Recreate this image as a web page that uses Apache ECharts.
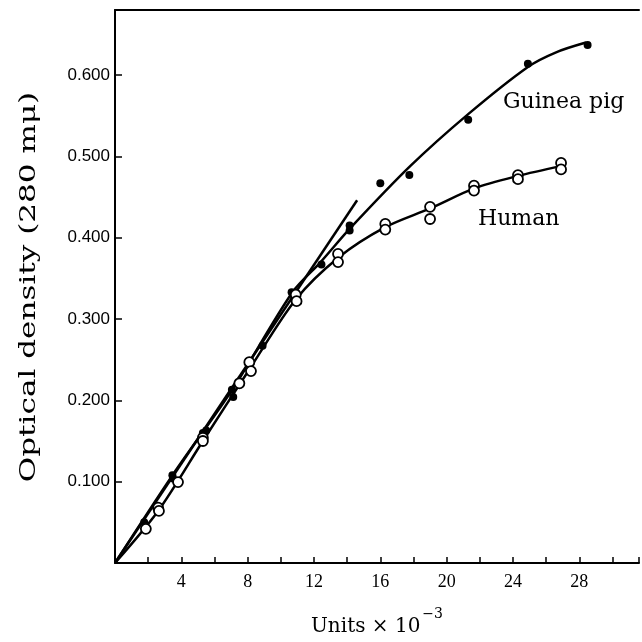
<!DOCTYPE html>
<html>
<head>
<meta charset="utf-8">
<script src="https://cdn.jsdelivr.net/npm/echarts@6/dist/echarts.min.js"></script>
<style>
  html, body { margin: 0; padding: 0; background: #fff; }
  #chart { width: 642px; height: 642px; }
</style>
</head>
<body>
<div id="chart"></div>
<script>
/* data (units x 10^-3 vs optical density at 280 mμ) */
var GP_X = [1.76, 3.46, 3.5, 5.3, 5.5, 7.05, 7.13, 8.9, 10.65, 10.8, 12.45, 14.15, 14.15, 16.0, 17.75, 21.3, 24.9, 28.5];
var GP_Y = [0.050, 0.108, 0.104, 0.160, 0.163, 0.213, 0.204, 0.267, 0.333, 0.328, 0.367, 0.415, 0.409, 0.467, 0.477, 0.545, 0.614, 0.637];

var HU_X = [1.86, 2.6, 2.65, 3.8, 5.3, 5.3, 7.5, 8.1, 8.2, 10.9, 10.95, 13.45, 13.45, 16.3, 16.3, 19.0, 19.0, 21.65, 21.65, 24.3, 24.3, 26.9, 26.9];
var HU_Y = [0.042, 0.068, 0.064, 0.0995, 0.154, 0.150, 0.221, 0.247, 0.236, 0.330, 0.322, 0.380, 0.370, 0.417, 0.410, 0.438, 0.423, 0.464, 0.458, 0.477, 0.472, 0.492, 0.484];

/* drawn curves */
var GP_CURVE_X = [0, 3.5, 7.1, 10.7, 12.4, 14.2, 17.8, 21.3, 24.9, 26.6, 28.4];
var GP_CURVE_Y = [0, 0.109, 0.214, 0.333, 0.370, 0.412, 0.488, 0.552, 0.610, 0.628, 0.640];

var HU_CURVE_X = [0, 2.6, 5.3, 8.1, 10.9, 13.5, 16.3, 19.0, 21.7, 24.3, 26.9];
var HU_CURVE_Y = [0, 0.064, 0.150, 0.238, 0.324, 0.376, 0.413, 0.436, 0.461, 0.476, 0.488];

var TANGENT_X = [0, 14.6];
var TANGENT_Y = [0, 0.446];

var zip = function (xs, ys) {
  var rt = [];
  for (var i = 0; i < xs.length; i++) rt.push([xs[i], ys[i]]);
  return rt;
};

var LINE = { color: '#000', width: 2.5 };

var option = {
  backgroundColor: '#fff',
  animation: false,
  grid: { left: 115, top: 10, right: 0, bottom: 64 },
  xAxis: [
    {
      type: 'value', min: 0, max: 31.6, interval: 2,
      axisLine: { lineStyle: { color: '#000', width: 2 } },
      axisTick: { inside: true, length: 6, lineStyle: { color: '#000', width: 1.5 } },
      splitLine: { show: false },
      axisLabel: {
        color: '#000', fontFamily: 'Liberation Serif', fontSize: 18, margin: 10,
        formatter: function (v) { return (v > 0 && v % 4 === 0) ? String(v) : ''; }
      },
      name: '{a|Units × 10}{s|−3}',
      nameLocation: 'middle', nameGap: 44,
      nameTextStyle: {
        rich: {
          a: { fontFamily: 'DejaVu Serif', fontSize: 20, color: '#000', verticalAlign: 'bottom', lineHeight: 26 },
          s: { fontFamily: 'DejaVu Serif', fontSize: 14, color: '#000', verticalAlign: 'top', lineHeight: 30, padding: [0, 0, 12, 2] }
        }
      }
    },
    {
      type: 'value', position: 'top', min: 0, max: 31.6,
      axisLine: { lineStyle: { color: '#000', width: 2 } },
      axisTick: { show: false }, axisLabel: { show: false }, splitLine: { show: false }
    }
  ],
  yAxis: {
    type: 'value', min: 0, max: 0.68, interval: 0.1,
    axisLine: { lineStyle: { color: '#000', width: 2 } },
    axisTick: { inside: true, length: 7, lineStyle: { color: '#000', width: 1.5 } },
    splitLine: { show: false },
    axisLabel: {
      color: '#000', fontFamily: 'Liberation Sans', fontSize: 17, margin: 5,
      formatter: function (v) {
        var k = Math.round(v * 10);
        return (k > 0 && Math.abs(v * 10 - k) < 1e-6) ? v.toFixed(3) : '';
      }
    }
  },
  graphic: [
    /* y axis title, stretched along its length like the wide typeface of the original */
    {
      type: 'text', x: 29, y: 287, rotation: Math.PI / 2, scaleX: 1.35,
      style: {
        text: 'Optical density (280 mμ)', font: '23px "DejaVu Serif"', fill: '#000',
        textAlign: 'center', textVerticalAlign: 'middle'
      }
    },
    { type: 'text', left: 503, top: 91, style: { text: 'Guinea pig', font: '22px "DejaVu Serif"', fill: '#000' } },
    { type: 'text', left: 478, top: 208, style: { text: 'Human', font: '22px "DejaVu Serif"', fill: '#000' } }
  ],
  series: [
    { type: 'line', data: zip(TANGENT_X, TANGENT_Y), showSymbol: false, lineStyle: LINE, z: 2 },
    { type: 'line', data: zip(GP_CURVE_X, GP_CURVE_Y), smooth: 0.3, showSymbol: false, lineStyle: LINE, z: 2 },
    { type: 'line', data: zip(HU_CURVE_X, HU_CURVE_Y), smooth: 0.3, showSymbol: false, lineStyle: LINE, z: 2 },
    {
      type: 'scatter', data: zip(GP_X, GP_Y), symbol: 'circle', symbolSize: 8,
      itemStyle: { color: '#000', opacity: 1 }, z: 4
    },
    {
      type: 'scatter', data: zip(HU_X, HU_Y), symbol: 'circle', symbolSize: 10,
      itemStyle: { color: '#fff', borderColor: '#000', borderWidth: 1.8, opacity: 1 }, z: 5
    }
  ]
};

var chart = echarts.init(document.getElementById('chart'), null, { renderer: 'canvas' });
chart.setOption(option);
</script>
</body>
</html>
